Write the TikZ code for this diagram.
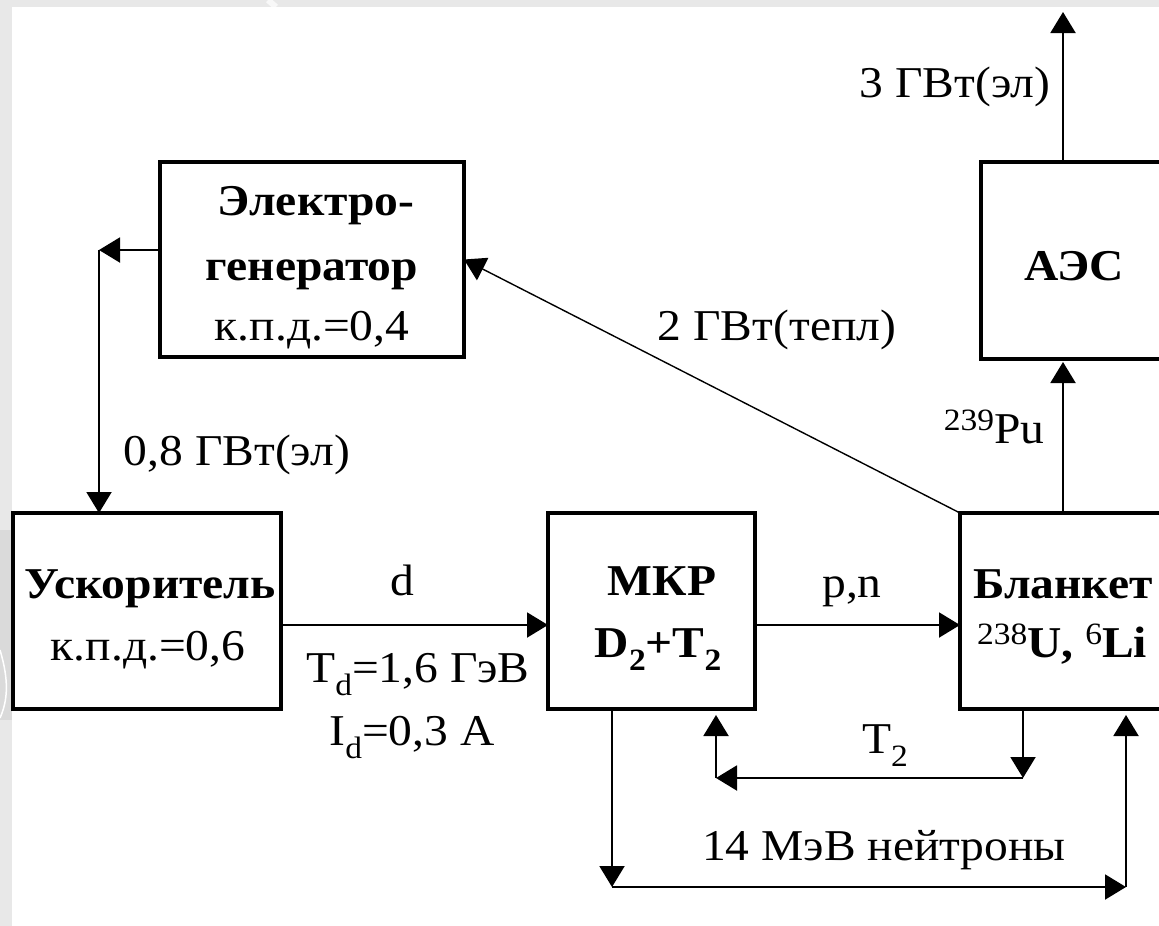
\documentclass[tikz,border=0pt]{standalone}
\usepackage{fontspec}
\setmainfont{Liberation Serif}[FakeStretch=1.08]
\usetikzlibrary{arrows.meta}
% lowered / raised indices with a smaller size
\newcommand\lowidx[1]{\raisebox{-13pt}{\fontsize{31}{31}\selectfont #1}}
\newcommand\upidx[1]{\raisebox{13pt}{\fontsize{31}{31}\selectfont\mdseries #1}}
\definecolor{bggray}{HTML}{E8E8E8}
\definecolor{bgdark}{HTML}{DADADA}

\begin{document}
\begin{tikzpicture}[x=1pt,y=-1pt,
  blk/.style={draw=black, line width=3.5pt, fill=white, inner sep=0pt, outer sep=0pt},
  txt/.style={font=\fontsize{44}{50}\selectfont, inner sep=0pt, anchor=base},
  btxt/.style={font=\fontsize{44}{50}\selectfont\bfseries, inner sep=0pt, anchor=base},
  arr/.style={line width=2pt, -{Triangle[length=21pt,width=25pt]}},
  thinarr/.style={line width=1.4pt, -{Triangle[length=21pt,width=25pt]}}]

% page background with a white sheet
\useasboundingbox (0,0) rectangle (1159,926);
\fill[bggray] (0,0) rectangle (1159,926);
\fill[bgdark] (0,530) rectangle (12,720);
\draw[white, line width=1.5pt] (0,650) .. controls (9,680) and (8,700) .. (0,718);
\draw[white!70!bggray, line width=6pt] (268,0) -- (276,7);
\fill[white] (12,7) rectangle (1159,926);

% blocks
\node[blk, minimum width=304pt, minimum height=195pt] (gen) at (312,259.5) {};
\node[blk, minimum width=268pt, minimum height=196pt] (acc) at (147,611) {};
\node[blk, minimum width=207pt, minimum height=196pt] (mkr) at (651.5,611) {};
\node[blk, minimum width=206pt, minimum height=196pt] (blank) at (1063,611) {};
\node[blk, minimum width=186pt, minimum height=197pt] (aes) at (1074,260.5) {};

% block texts
\node[btxt] (genA) at (316,215) {Электро-};
\node[btxt] (genB) at (312,280) {генератор};
\node[txt]  (genC) at (312,340) {к.п.д.=0,4};
\node[btxt] (accA) at (150,598) {Ускоритель};
\node[txt]  (accB) at (148,660) {к.п.д.=0,6};
\node[btxt] (mkrA) at (662,595) {МКР};
\node[btxt] (mkrB) at (658,657) {D\lowidx{2}+T\lowidx{2}};
\node[btxt] (blA) at (1063,598) {Бланкет};
\node[btxt] (blB) at (1062,657) {\upidx{238}U, \upidx{6}Li};
\node[btxt] (aesA) at (1074,280) {АЭС};

% connector labels
\node[txt] (lOut) at (955,97) {3 ГВт(эл)};
\node[txt] (lHeat) at (777,340) {2 ГВт(тепл)};
\node[txt] (lPu) at (994,443) {\upidx{239}Pu};
\node[txt] (lEl) at (237,465) {0,8 ГВт(эл)};
\node[txt] (lD) at (402,595) {d};
\node[txt] (lTd) at (418,682) {T\lowidx{d}=1,6 ГэВ};
\node[txt] (lId) at (412,745) {I\lowidx{d}=0,3 A};
\node[txt] (lPn) at (852,597) {p,n};
\node[txt] (lT2) at (885,753) {T\lowidx{2}};
\node[txt] (lN) at (884,860) {14 МэВ нейтроны};

% routing points
\coordinate (c1) at (99,250);
\coordinate (top) at (1063,12);
\coordinate (row) at (0,625);
\coordinate (t2r) at (1023,778);
\coordinate (t2l) at (716,778);
\coordinate (nl) at (612,887);
\coordinate (nr) at (1126,887);

% connectors
\draw[arr] (gen.west |- c1) -- (c1);
\draw[arr] (c1) -- (c1 |- acc.north);
\draw[thinarr] (blank.north west) -- (gen.east);
\draw[arr] (aes.north -| top) -- (top);
\draw[arr, shorten >=3pt] (blank.north -| top) -- (aes.south -| top);
\draw[arr] (acc.east |- row) -- (mkr.west |- row);
\draw[arr] (mkr.east |- row) -- (blank.west |- row);
\draw[arr] (blank.south -| t2r) -- (t2r);
\draw[arr] (t2r) -- (t2l);
\draw[arr, shorten >=6pt] (t2l) -- (t2l |- mkr.south);
\draw[arr] (mkr.south -| nl) -- (nl);
\draw[arr] (nl) -- (nr);
\draw[arr, shorten >=6pt] (nr) -- (nr |- blank.south);
\end{tikzpicture}
\end{document}
